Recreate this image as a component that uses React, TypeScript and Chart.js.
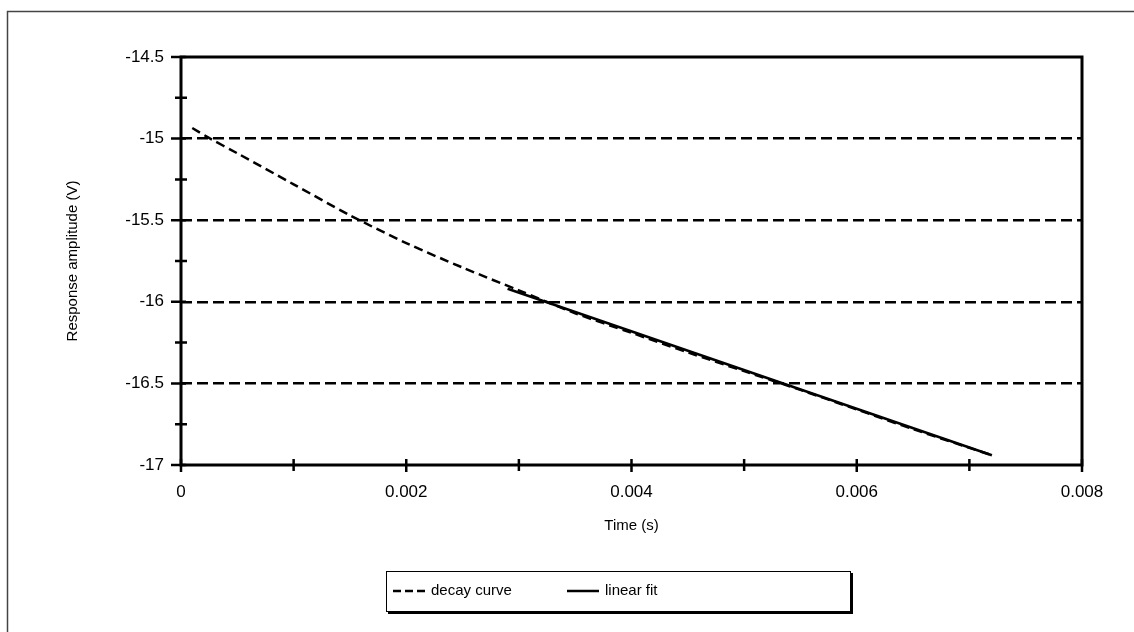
import React, { useEffect, useRef } from "react";
import { Chart, registerables } from "chart.js";

Chart.register(...registerables);

const xTicks = [0, 0.002, 0.004, 0.006, 0.008];
const xMinorTicks = [0.001, 0.003, 0.005, 0.007];
const yTicks = [-17, -16.5, -16, -15.5, -15, -14.5];
const yMinorTicks = [-16.75, -16.25, -15.75, -15.25, -14.75];

const decayTime = [0.0001, 0.00026, 0.0005, 0.001, 0.0015, 0.002, 0.0025, 0.003, 0.0035, 0.004, 0.0045, 0.005, 0.0055, 0.006, 0.0065, 0.0072];
const decayAmp = [-14.935, -15.0, -15.09, -15.28, -15.47, -15.64, -15.79, -15.93, -16.07, -16.19, -16.31, -16.425, -16.54, -16.66, -16.78, -16.94];

const fitTime = [0.0029, 0.0072];
const fitAmp = [-15.92, -16.94];

const FONT = "'Liberation Sans', Arial, Helvetica, sans-serif";

const framePlugin = {
  id: "framePlugin",
  beforeDraw(chart: any) {
    const ctx = chart.ctx;
    ctx.save();
    ctx.fillStyle = "#fff";
    ctx.fillRect(0, 0, chart.width, chart.height);
    ctx.strokeStyle = "#444";
    ctx.lineWidth = 1.5;
    ctx.beginPath();
    ctx.moveTo(7.5, chart.height);
    ctx.lineTo(7.5, 11.5);
    ctx.lineTo(chart.width, 11.5);
    ctx.stroke();
    ctx.restore();
  },
  afterDraw(chart: any) {
    const ctx = chart.ctx;
    const { left, right, top, bottom } = chart.chartArea;
    const xs = chart.scales.x;
    const ys = chart.scales.y;
    ctx.save();
    ctx.strokeStyle = "#000";
    ctx.lineWidth = 3;
    ctx.setLineDash([]);
    ctx.strokeRect(left, top, right - left, bottom - top);
    ctx.lineWidth = 2.5;
    ctx.beginPath();
    for (const v of xTicks) {
      const px = xs.getPixelForValue(v);
      ctx.moveTo(px, bottom - 6);
      ctx.lineTo(px, bottom + 7);
    }
    for (const v of xMinorTicks) {
      const px = xs.getPixelForValue(v);
      ctx.moveTo(px, bottom - 6);
      ctx.lineTo(px, bottom + 6);
    }
    for (const v of yTicks) {
      const py = ys.getPixelForValue(v);
      ctx.moveTo(left - 10, py);
      ctx.lineTo(left + 5, py);
    }
    for (const v of yMinorTicks) {
      const py = ys.getPixelForValue(v);
      ctx.moveTo(left - 6, py);
      ctx.lineTo(left + 6, py);
    }
    ctx.stroke();

    // legend
    const bx = 386, by = 571, bw = 464, bh = 40;
    ctx.fillStyle = "#fff";
    ctx.fillRect(bx, by, bw, bh);
    ctx.lineWidth = 1;
    ctx.strokeStyle = "#000";
    ctx.strokeRect(bx + 0.5, by + 0.5, bw, bh);
    ctx.lineWidth = 3;
    ctx.beginPath();
    ctx.moveTo(bx + bw + 1.5, by + 2);
    ctx.lineTo(bx + bw + 1.5, by + bh + 1.5);
    ctx.lineTo(bx + 2, by + bh + 1.5);
    ctx.stroke();
    const cy = by + bh / 2;
    const items = chart.data.datasets;
    const starts = [393, 567];
    items.forEach((ds: any, i: number) => {
      const sx = starts[i];
      ctx.beginPath();
      ctx.lineWidth = 2.5;
      ctx.setLineDash(i === 0 ? [8, 4] : []);
      ctx.moveTo(sx, cy);
      ctx.lineTo(sx + 32, cy);
      ctx.stroke();
      ctx.setLineDash([]);
      ctx.fillStyle = "#000";
      ctx.font = `15px ${FONT}`;
      ctx.textBaseline = "middle";
      ctx.textAlign = "left";
      ctx.fillText(ds.label, sx + 38, cy);
    });
    ctx.restore();
  },
};

export default function App() {
  const ref = useRef<HTMLCanvasElement | null>(null);
  useEffect(() => {
    if (!ref.current) return;
    const chart = new Chart(ref.current, {
      type: "line",
      data: {
        datasets: [
          {
            label: "decay curve",
            data: decayTime.map((t, i) => ({ x: t, y: decayAmp[i] })),
            borderColor: "#000",
            borderWidth: 2.5,
            borderDash: [9, 5],
            pointRadius: 0,
            tension: 0.3,
            fill: false,
          },
          {
            label: "linear fit",
            data: fitTime.map((t, i) => ({ x: t, y: fitAmp[i] })),
            borderColor: "#000",
            borderWidth: 2.5,
            pointRadius: 0,
            fill: false,
          },
        ],
      },
      options: {
        animation: false,
        responsive: false,
        devicePixelRatio: 1,
        layout: { padding: { left: 60, top: 57, right: 52, bottom: 92 } },
        plugins: { legend: { display: false }, tooltip: { enabled: false } },
        scales: {
          x: {
            type: "linear",
            min: 0,
            max: 0.008,
            afterFit: (s: any) => { s.height = 75; },
            afterBuildTicks: (s: any) => { s.ticks = xTicks.map((v) => ({ value: v })); },
            grid: { display: false, drawTicks: false },
            border: { display: false },
            ticks: {
              padding: 17,
              color: "#000",
              font: { family: FONT, size: 17 },
              maxRotation: 0,
              autoSkip: false,
              callback: (v: any) => String(v),
            },
            title: {
              display: true,
              text: "Time (s)",
              color: "#000",
              font: { family: FONT, size: 15 },
              padding: { top: 0, bottom: 5 },
            },
          },
          y: {
            type: "linear",
            min: -17,
            max: -14.5,
            afterFit: (s: any) => { s.width = 121; },
            afterBuildTicks: (s: any) => { s.ticks = yTicks.map((v) => ({ value: v })); },
            grid: {
              display: true,
              drawTicks: false,
              color: (c: any) => (c.tick && (c.tick.value === -17 || c.tick.value === -14.5) ? "rgba(0,0,0,0)" : "#000"),
              lineWidth: 2.5,
            },
            border: { display: false, dash: [11, 5] },
            ticks: {
              padding: 17,
              color: "#000",
              font: { family: FONT, size: 17 },
              autoSkip: false,
              callback: (v: any) => String(v),
            },
            title: {
              display: true,
              text: "Response amplitude (V)",
              color: "#000",
              font: { family: FONT, size: 15 },
              padding: { top: 4, bottom: 0 },
            },
          },
        },
      },
      plugins: [framePlugin],
    });
    return () => chart.destroy();
  }, []);
  return (
    <div style={{ position: "fixed", left: 0, top: 0, width: 1134, height: 632, background: "#fff" }}>
      <canvas ref={ref} width={1134} height={632} style={{ display: "block" }} />
    </div>
  );
}
